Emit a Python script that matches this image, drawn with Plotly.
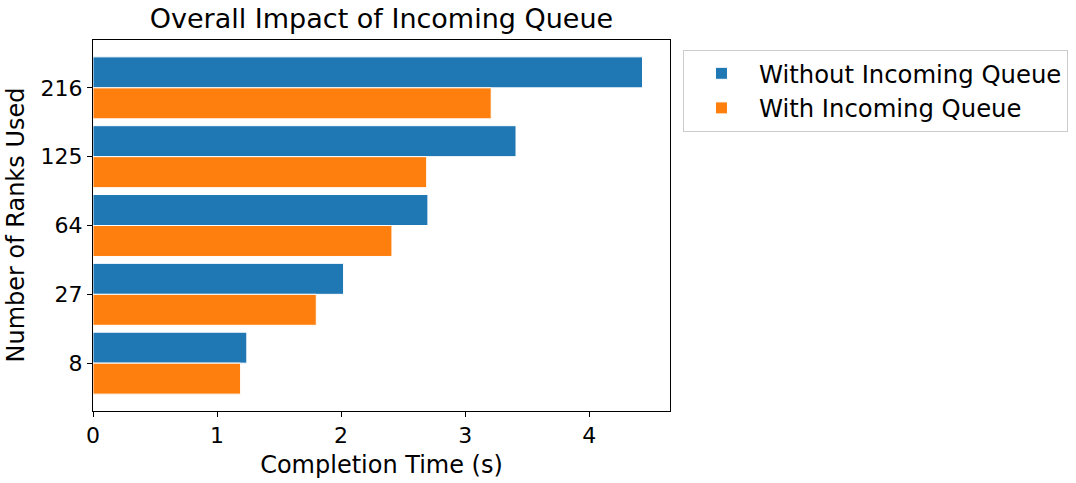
import plotly.graph_objects as go

ranks = ["8", "27", "64", "125", "216"]
without_queue = [1.24, 2.02, 2.70, 3.41, 4.43]
with_queue = [1.19, 1.80, 2.41, 2.69, 3.21]
x_ticks = [0, 1, 2, 3, 4]

pos = list(range(len(ranks)))
FONT = "DejaVu Sans"

W, H = 1076, 483
L, T = 93, 40
PW, PH = 577, 371

fig = go.Figure()
fig.add_trace(go.Bar(
    y=pos, x=without_queue, orientation="h", name="Without Incoming Queue",
    width=0.45, offset=0.0, marker=dict(color="#1f77b4", line=dict(color="white", width=1)),
))
fig.add_trace(go.Bar(
    y=pos, x=with_queue, orientation="h", name="With Incoming Queue",
    width=0.45, offset=-0.45, marker=dict(color="#ff7f0e", line=dict(color="white", width=1)),
))

xmax = max(without_queue + with_queue) * 1.05
fig.update_layout(
    width=W, height=H,
    margin=dict(l=L, r=W - L - PW, t=T, b=H - T - PH, autoexpand=False),
    barmode="overlay",
    paper_bgcolor="white", plot_bgcolor="white",
    font=dict(family=FONT, size=22, color="black"),
    title=dict(text="Overall Impact of Incoming Queue", x=(L + PW / 2) / W, xanchor="center",
               y=1 - 19 / H, yanchor="middle", font=dict(size=27)),
    legend=dict(x=1.0225, y=0.973, xanchor="left", yanchor="top",
                bordercolor="#cccccc", borderwidth=1, bgcolor="white",
                font=dict(size=24.3), traceorder="normal", itemwidth=65),
    xaxis=dict(range=[0, xmax], tickvals=x_ticks, ticktext=[str(t) for t in x_ticks],
               showgrid=False, zeroline=False, showline=True, linecolor="black", linewidth=1,
               mirror=True, ticks="outside", ticklen=5, tickcolor="black",
               tickfont=dict(size=22),
               title=dict(text="Completion Time (s)", standoff=8, font=dict(size=24))),
    yaxis=dict(range=[-0.695, 4.695], tickvals=pos, ticktext=ranks,
               showgrid=False, zeroline=False, showline=True, linecolor="black", linewidth=1,
               mirror=True, ticks="outside", ticklen=5, tickcolor="black",
               tickfont=dict(size=22)),
    annotations=[dict(text="Number of Ranks Used", xref="paper", yref="paper",
                      x=0, y=0.5, xshift=-78, xanchor="center", yanchor="middle",
                      textangle=-90, showarrow=False, font=dict(size=24))],
)

fig.write_html("out.html", config={"displayModeBar": False},
               post_script="document.body.style.margin='0';")
